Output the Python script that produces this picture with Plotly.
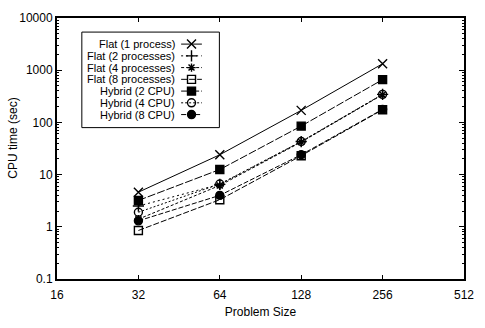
import plotly.graph_objects as go

# Problem sizes and CPU time (seconds) for each configuration
problem_size = [32, 64, 128, 256]
flat_1 = [4.6, 24, 170, 1330]
flat_2 = [2.5, 6.5, 43, 345]
flat_4 = [1.4, 6.2, 42, 340]
flat_8 = [0.85, 3.3, 23, 175]
hybrid_2 = [3.2, 12.5, 85, 660]
hybrid_4 = [1.9, 6.6, 43, 345]
hybrid_8 = [1.3, 4.0, 24, 178]

x_ticks = [16, 32, 64, 128, 256, 512]
y_ticks = [0.1, 1, 10, 100, 1000, 10000]
y_tick_text = ["0.1", "1", "10", "100", "1000", "10000"]

series = [
    ("Flat (1 process)", flat_1, "solid", "x-thin-open", 9),
    ("Flat (2 processes)", flat_2, "2px,3px", "cross-thin-open", 8),
    ("Flat (4 processes)", flat_4, "3px,2px", "asterisk-open", 7),
    ("Flat (8 processes)", flat_8, "6px,2px", "square-open", 8),
    ("Hybrid (2 CPU)", hybrid_2, "8px,2px", "square", 8),
    ("Hybrid (4 CPU)", hybrid_4, "2px,2px", "circle-open", 8),
    ("Hybrid (8 CPU)", hybrid_8, "5px,2px", "circle", 8),
]

FONT = "Liberation Sans, Arial, sans-serif"
fig = go.Figure()

for name, vals, dash, sym, size in series:
    fig.add_trace(go.Scatter(
        x=problem_size, y=vals, mode="lines+markers", name=name,
        line=dict(color="black", width=1, dash=dash),
        marker=dict(symbol=sym, size=size, color="black",
                    line=dict(color="black", width=1.4)),
        showlegend=False,
    ))

# Hand-built legend: right-aligned labels with line/marker samples to the right
row_top, row_step = 0.9, 0.045
text_right, s0, s1 = 0.296, 0.305, 0.356
for i, (name, vals, dash, sym, size) in enumerate(series):
    fy = row_top - i * row_step
    fig.add_annotation(
        x=text_right, y=fy, xref="x2", yref="y2", text=name, showarrow=False,
        xanchor="right", yanchor="middle",
        font=dict(family=FONT, size=11, color="black"),
    )
    fig.add_trace(go.Scatter(
        x=[s0, (s0 + s1) / 2, s1], y=[fy, fy, fy], xaxis="x2", yaxis="y2",
        mode="lines", line=dict(color="black", width=1, dash=dash),
        showlegend=False, hoverinfo="skip",
    ))
    fig.add_trace(go.Scatter(
        x=[(s0 + s1) / 2], y=[fy], xaxis="x2", yaxis="y2", mode="markers",
        marker=dict(symbol=sym, size=size, color="black",
                    line=dict(color="black", width=1.4)),
        showlegend=False, hoverinfo="skip",
    ))

fig.add_shape(type="rect", xref="x2", yref="y2", x0=0.061, x1=0.399,
              y0=0.58, y1=0.946, line=dict(color="black", width=1),
              fillcolor="rgba(0,0,0,0)")

# Vertical axis title placed as a rotated annotation
fig.add_annotation(
    x=-0.109, y=0.54, xref="paper", yref="paper", text="CPU time (sec)",
    textangle=-90, showarrow=False, xanchor="center", yanchor="middle",
    font=dict(family=FONT, size=12, color="black"),
)

fig.update_layout(
    width=485, height=328,
    margin=dict(l=57, r=15, t=11, b=37),
    paper_bgcolor="white", plot_bgcolor="white",
    font=dict(family=FONT, size=12, color="black"),
    xaxis=dict(
        type="log", range=[1.20412, 2.70927],
        tickvals=x_ticks, ticktext=[str(v) for v in x_ticks],
        ticks="inside", ticklen=4, tickwidth=1, tickcolor="black",
        ticklabelstandoff=4,
        showline=True, linewidth=2, linecolor="black", mirror="ticks",
        showgrid=False, zeroline=False,
        title=dict(text="Problem Size", font=dict(size=12), standoff=6),
        tickfont=dict(size=12),
    ),
    yaxis=dict(
        type="log", range=[-1, 4],
        tickvals=y_ticks, ticktext=y_tick_text,
        ticks="inside", ticklen=5, tickwidth=1, tickcolor="black",
        minor=dict(ticks="inside", ticklen=2, tickcolor="black", dtick="D1",
                   showgrid=False),
        showline=True, linewidth=2, linecolor="black", mirror="ticks",
        showgrid=False, zeroline=False,
        tickfont=dict(size=12),
    ),
    xaxis2=dict(range=[0, 1], overlaying="x", visible=False, fixedrange=True),
    yaxis2=dict(range=[0, 1], overlaying="y", visible=False, fixedrange=True),
)

fig.write_html("out.html")
